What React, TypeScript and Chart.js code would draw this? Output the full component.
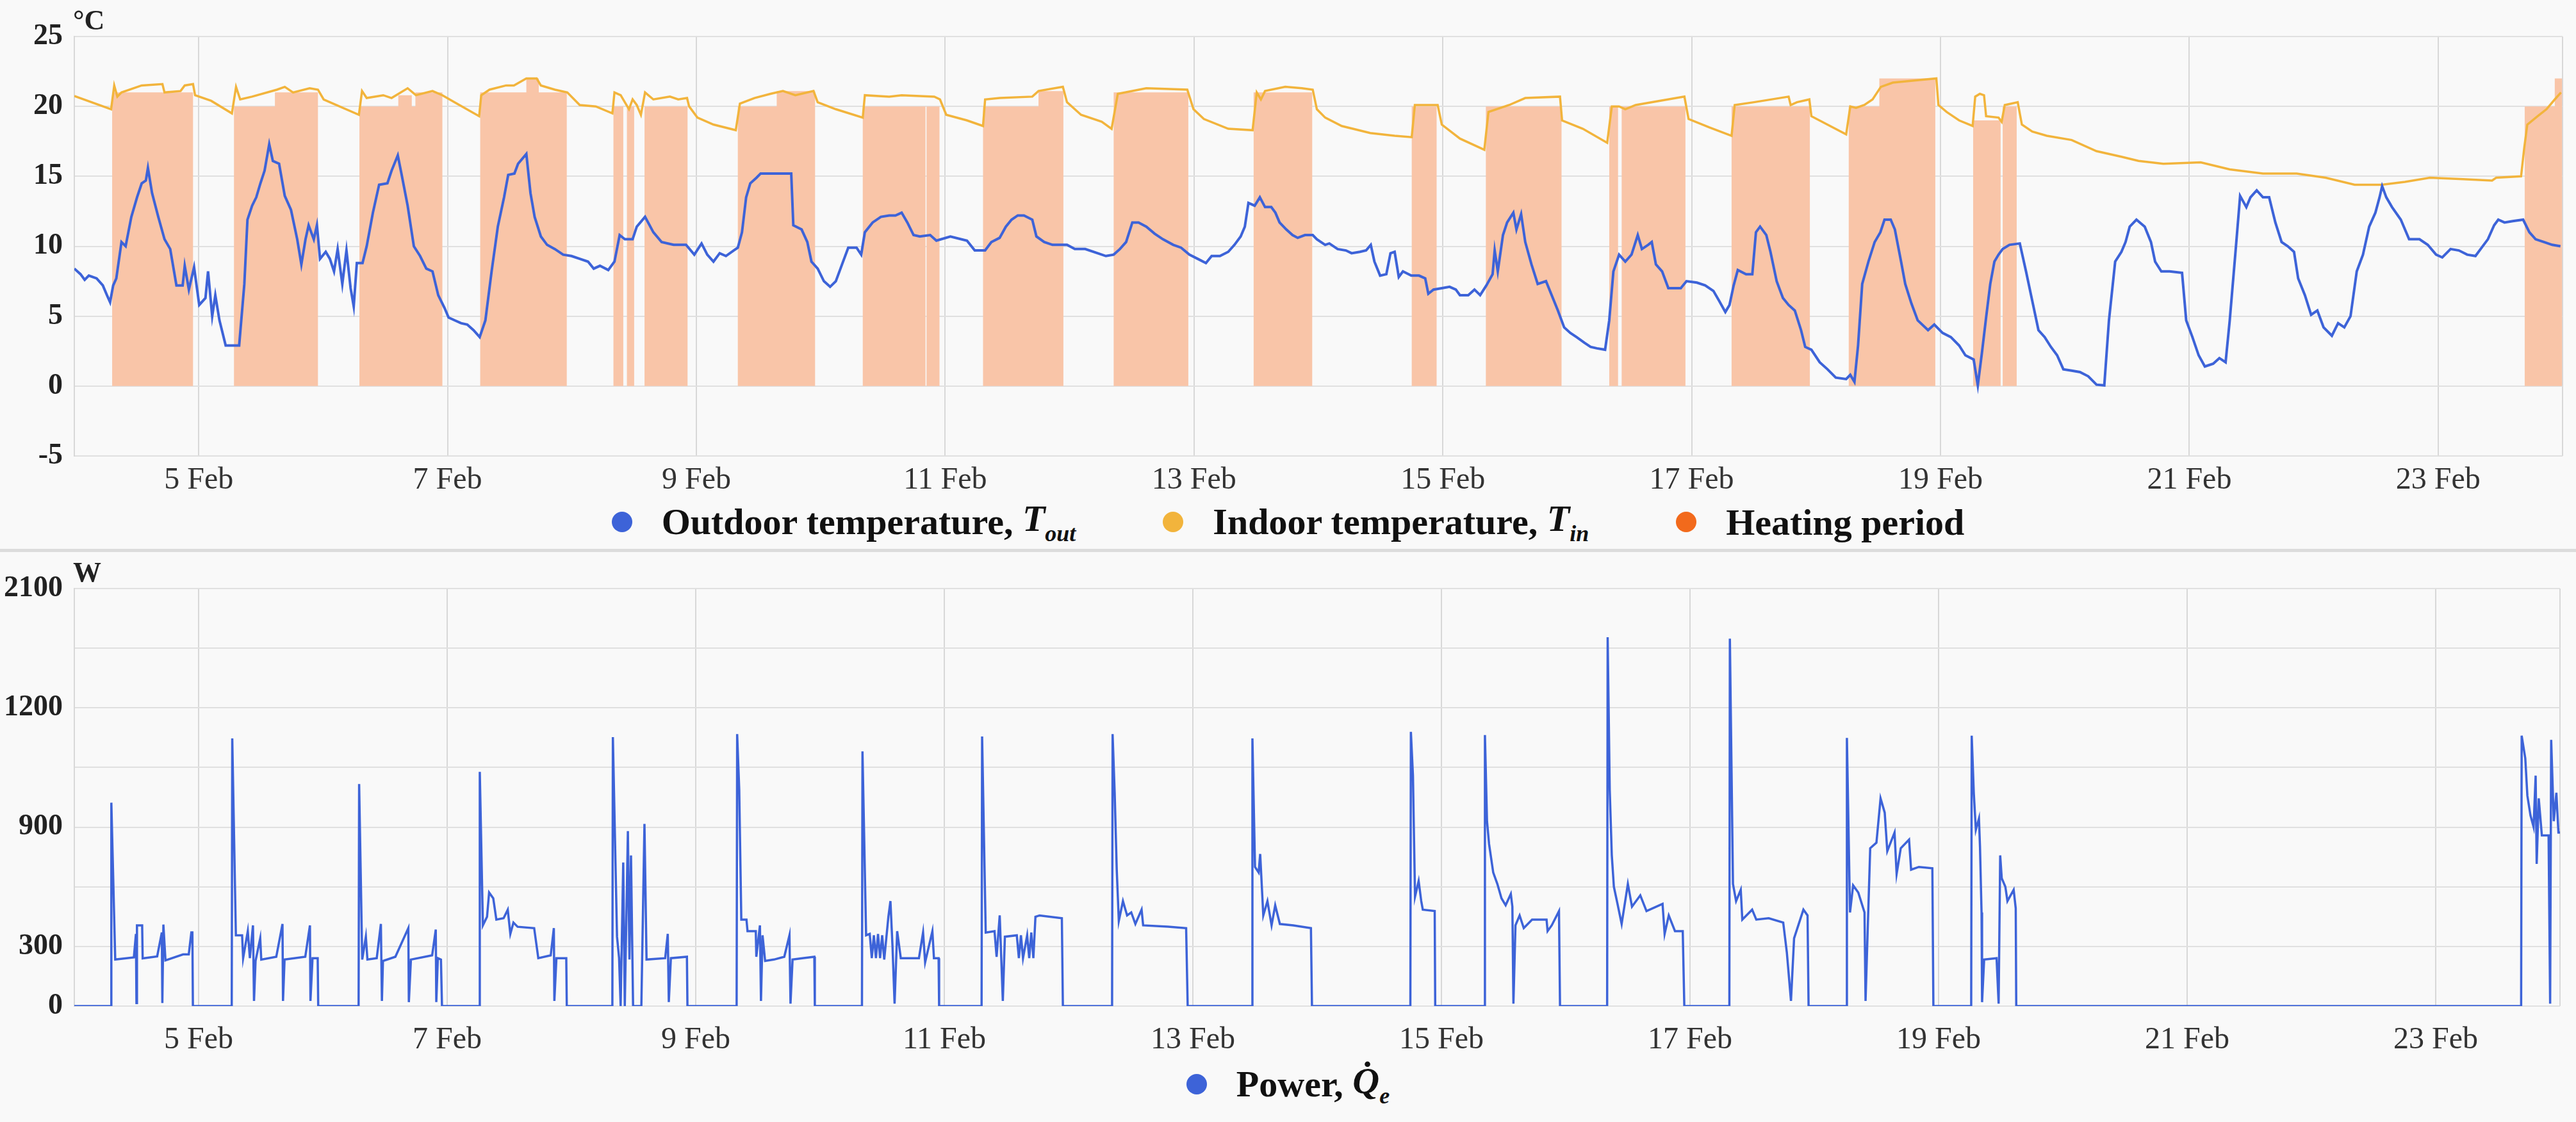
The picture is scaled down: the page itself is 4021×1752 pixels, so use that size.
import React, { useEffect, useRef } from 'react';
import Chart from 'chart.js/auto';

// hours counted from 4 Feb 00:00
const outdoorHours = [
  0, 1.2, 2, 2.8, 4.3, 5.5, 6.3, 6.9, 7.5, 8.1, 9.1, 9.9, 11, 12.1, 13, 13.8, 14.2, 15, 16.2, 17.4, 18.5, 19.7,
  20.9, 21.3, 22.1, 23.1, 24.1, 25.3, 25.8, 26.6, 27.2, 28, 29.2, 31.8, 32.8, 33.4, 34.3, 35.1, 35.9, 36.7, 37.6,
  38.3, 39.5, 40.6, 41.8, 43, 43.8, 44.6, 45.2, 46.2, 46.8, 47.4, 48.5, 49.3, 50.1, 50.8, 51.7, 52.5, 53.3, 53.9,
  54.5, 55.6, 56.4, 57.6, 58.8, 60.4, 61.2, 62.4, 63.1, 64.3, 65.5, 66.7, 67.9, 69.1, 70.2, 71.4, 72.2, 73.4,
  74.6, 75.8, 77, 78.2, 79.3, 80.5, 81.7, 82.9, 83.7, 84.9, 85.6, 87.2, 88, 88.8, 90, 91.2, 92.7, 94.3, 95.9,
  97.5, 99.1, 100.2, 101.4, 103, 104.2, 105.2, 106.2, 107.7, 108.5, 110.1, 111.7, 113.3, 115.6, 118, 119.6, 121,
  122.1, 123.3, 124.5, 125.7, 127.2, 128, 128.8, 129.6, 130.4, 131.6, 132.4, 138.3, 138.7, 140.3, 141.4, 142.2,
  143.4, 144.6, 145.8, 146.9, 148.1, 149.3, 150.9, 151.8, 152.5, 154, 155.6, 157.2, 158.4, 159.6, 160.7, 161.9,
  163.1, 165.1, 166.3, 169, 172.2, 173.7, 175.7, 176.9, 178.5, 179.7, 180.8, 182, 183.2, 184.8, 185.6, 187.1,
  188.7, 191.5, 193, 195, 197.4, 199, 200.5, 201.7, 202.9, 204.1, 205.3, 206.8, 208.4, 210, 212, 213.5, 215.1,
  216.7, 218.3, 219.4, 221, 222.6, 223.8, 225, 225.8, 226.5, 227.7, 228.7, 229.7, 230.9, 231.7, 232.5, 233.8,
  235, 236, 237.4, 238.9, 239.7, 241.3, 242.1, 243.7, 245.3, 246.4, 248, 249.2, 250.1, 250.8, 251.9, 253.1,
  253.9, 254.7, 255.5, 256.3, 257.9, 259.4, 260.6, 261.2, 262.2, 263.8, 265.3, 266.5, 267.3, 268.9, 270.1,
  271.2, 272.4, 273.6, 274, 274.6, 275.6, 276.4, 277.6, 278.2, 279.1, 279.9, 281.1, 282.3, 283.9, 285, 286.2,
  287.4, 288.6, 289.8, 291.3, 292.5, 293.7, 295.3, 296.1, 296.9, 298, 299.2, 300.4, 301.6, 302.4, 303.6, 304.3,
  305.1, 306.3, 307.5, 309.9, 311, 313, 314.6, 316.2, 317.3, 318.5, 319.3, 320.1, 320.9, 322.5, 323.7, 324.4,
  325.2, 326.4, 327.2, 328.4, 329.6, 330.7, 331.9, 333.1, 333.9, 335.1, 336.7, 338.2, 339.8, 341.8, 342.6,
  343.4, 344.1, 344.9, 346.1, 347.3, 348.4, 349.2, 350.4, 351.2, 352.4, 353.2, 354.4, 355.6, 357.6, 358.8,
  360.4, 362, 363.6, 364.8, 366.4, 367.2, 368, 368.8, 369.6, 370.4, 371.2, 372, 373.3, 375.3, 376.5, 377.7,
  378.9, 380.1, 381.3, 382.5, 383.7, 385.3, 386.9, 388.5, 390.1, 391.6, 392.5, 393.7, 394.9, 395.7, 396.5,
  397.8, 399.4, 400.6, 401.4, 402.6, 404.2, 406.6, 407.4, 408.6, 409.8, 411, 412.6, 413.8, 415, 415.8, 417,
  417.8, 419, 419.8, 421, 422.2, 423.4, 424.6, 425.8, 427, 428.2, 429, 430.3, 431.5, 432.7, 433.9, 435.5,
  436.7, 437.9, 439.1, 440.3, 441.5, 442.7, 443.9, 444.7, 445.2, 446, 447.1, 448.8, 450.4, 452.4, 454, 455.6,
  456.8, 458.4, 460, 461.6, 463.2, 464.4, 465.6, 466.8, 467.6, 468.8, 470.4, 472.4, 473.6, 474.8, 476.4, 478,
  479.6,
];
const outdoorTemp = [
  8.4, 8.0, 7.6, 7.9, 7.7, 7.2, 6.5, 6.0, 7.2, 7.7, 10.3, 10.0, 12.1, 13.5, 14.5, 14.7, 15.6, 13.8, 12.1, 10.5,
  9.8, 7.2, 7.2, 8.6, 6.9, 8.5, 5.8, 6.3, 8.2, 5.0, 6.5, 4.7, 2.9, 2.9, 7.3, 11.9, 12.9, 13.5, 14.5, 15.4, 17.3,
  16.1, 15.9, 13.6, 12.6, 10.5, 8.7, 10.5, 11.5, 10.5, 11.5, 9.1, 9.6, 9.1, 8.2, 9.8, 7.3, 9.7, 7.0, 5.7, 8.8,
  8.8, 10.0, 12.4, 14.4, 14.5, 15.4, 16.5, 15.2, 12.9, 10.0, 9.3, 8.4, 8.2, 6.5, 5.6, 4.9, 4.7, 4.5, 4.4, 4.0,
  3.5, 4.7, 8.2, 11.4, 13.5, 15.1, 15.2, 15.9, 16.6, 13.8, 12.1, 10.7, 10.1, 9.8, 9.4, 9.3, 9.1, 8.9, 8.4, 8.6,
  8.3, 8.9, 10.8, 10.5, 10.5, 11.4, 12.1, 11.0, 10.3, 10.1, 10.1, 9.4, 10.2, 9.4, 8.9, 9.5, 9.3, 9.7, 9.9, 11.0,
  13.5, 14.5, 14.9, 15.2, 15.2, 11.5, 11.2, 10.3, 8.9, 8.4, 7.5, 7.1, 7.5, 8.7, 9.9, 9.9, 9.4, 11.0, 11.7, 12.1,
  12.2, 12.2, 12.4, 11.7, 10.8, 10.7, 10.8, 10.4, 10.7, 10.4, 9.7, 9.7, 10.3, 10.6, 11.4, 11.9, 12.2, 12.2,
  11.9, 10.7, 10.3, 10.1, 10.1, 9.8, 9.8, 9.5, 9.3, 9.4, 9.8, 10.3, 11.7, 11.7, 11.4, 10.9, 10.5, 10.1, 9.9,
  9.4, 9.1, 8.8, 9.3, 9.3, 9.6, 10.1, 10.7, 11.4, 13.1, 12.9, 13.5, 12.8, 12.8, 12.4, 11.7, 11.2, 10.8, 10.6,
  10.8, 10.8, 10.5, 10.1, 10.2, 9.8, 9.7, 9.5, 9.6, 9.7, 10.1, 8.9, 7.9, 8.0, 9.5, 9.6, 7.8, 8.2, 7.9, 7.9,
  7.7, 6.6, 6.9, 7.0, 7.1, 6.9, 6.5, 6.5, 6.9, 6.5, 7.2, 8.0, 9.7, 8.2, 10.8, 11.7, 12.4, 11.2, 12.3, 10.3, 8.7,
  7.3, 7.5, 6.5, 5.4, 4.2, 3.8, 3.5, 3.1, 2.8, 2.7, 2.6, 4.7, 8.2, 9.4, 8.9, 9.4, 10.8, 9.8, 10.1, 10.3, 8.7,
  8.2, 7.0, 7.0, 7.5, 7.4, 7.2, 6.8, 6.1, 5.3, 5.8, 7.2, 8.3, 8.0, 8.0, 11.0, 11.4, 10.8, 9.6, 7.5, 6.3, 5.8,
  5.4, 4.0, 2.8, 2.6, 1.7, 1.2, 0.6, 0.5, 0.8, 0.3, 2.9, 7.3, 8.9, 10.3, 11.0, 11.9, 11.9, 11.2, 8.9, 7.3, 5.9,
  4.7, 4.0, 4.4, 3.8, 3.5, 2.9, 2.2, 1.9, 0.05, 2.4, 4.9, 7.3, 8.9, 9.4, 9.8, 10.1, 10.2, 8.2, 6.1, 4.0, 3.5,
  2.8, 2.2, 1.2, 1.1, 1.0, 0.7, 0.1, 0.05, 4.7, 8.9, 9.6, 10.3, 11.4, 11.9, 11.4, 10.3, 8.9, 8.2, 8.2, 8.1, 4.7,
  3.5, 2.2, 1.4, 1.6, 2.0, 1.7, 4.7, 10.0, 13.6, 12.8, 13.5, 14.0, 13.5, 13.5, 11.7, 10.3, 10.0, 9.6, 7.7, 6.5,
  5.1, 5.4, 4.2, 3.6, 4.5, 4.2, 5.0, 8.2, 9.4, 11.4, 12.4, 13.5, 14.3, 13.5, 12.8, 11.9, 10.5, 10.5, 10.1, 9.4,
  9.2, 9.8, 9.7, 9.4, 9.3, 9.9, 10.5, 11.5, 11.9, 11.7, 11.8, 11.9, 11.0, 10.5, 10.3, 10.1, 10.0,
];

const indoorHours = [
  0, 7.1, 7.7, 8.3, 9.1, 13, 17, 17.4, 20.5, 21.3, 22.9, 23.3, 26.4, 30.4, 31.2, 32, 34.3, 39.1, 40.6, 42.2, 45.4,
  47, 48.1, 54.9, 55.5, 56.4, 59.6, 61.2, 64.3, 65.9, 69.1, 71, 73.8, 78.1, 78.5, 80.1, 83.3, 84.8, 87.2, 89.2,
  90, 92.7, 95.1, 97.5, 100.6, 103.8, 104.2, 105.4, 106.2, 107, 107.7, 108.5, 109.3, 110.1, 111.7, 114.9, 116.5,
  118.2, 118.6, 120.2, 123.3, 127.6, 128.4, 131.2, 134.3, 136.7, 139.1, 142.6, 143.4, 146.9, 152.1, 152.5, 157.2,
  159.6, 165.9, 167, 168.2, 172.2, 175.3, 175.7, 178.5, 184.8, 186, 190.7, 191.5, 194.2, 198.2, 200.1, 201.3,
  206.8, 214.7, 215.9, 217.9, 222.6, 227.3, 228.1, 228.9, 229.7, 233.6, 236.8, 238.9, 239.7, 241.3, 244.5, 250,
  254.7, 258, 258.6, 263, 263.8, 267.3, 272, 272.8, 276.8, 279.9, 286.6, 287, 291, 295.7, 296.6, 298, 299.2,
  301.2, 310.6, 311.4, 315.4, 319.7, 320.3, 324, 330.7, 331.1, 332.3, 334.7, 335.1, 341.8, 342.6, 343.7, 345.3,
  346.9, 348.5, 350.8, 356.2, 359.2, 359.6, 361.2, 363.6, 366.2, 366.7, 367.6, 368.4, 368.8, 371.2, 371.8, 372.4,
  373.7, 374.9, 375.7, 377.7, 380.5, 385.3, 390.1, 394.9, 398.2, 403, 410.2, 415.8, 422.2, 428.7, 434.3, 439.9,
  445.1, 449.6, 454.4, 460.8, 466.4, 467.2, 472, 472.6, 473.2, 475.2, 476.9, 478.5, 479.7,
];
const indoorTemp = [
  20.75, 19.8, 21.5, 20.7, 21.0, 21.5, 21.6, 21.0, 21.1, 21.5, 21.6, 20.8, 20.4, 19.5, 21.4, 20.5, 20.7, 21.2,
  21.4, 21.0, 21.3, 21.2, 20.5, 19.4, 21.1, 20.6, 20.8, 20.6, 21.3, 20.8, 21.1, 20.8, 20.2, 19.3, 20.8, 21.2,
  21.5, 21.5, 22.0, 22.0, 21.5, 21.2, 21.0, 20.1, 20.0, 19.5, 21.0, 20.8, 20.3, 19.8, 20.5, 20.1, 19.4, 21.0,
  20.5, 20.7, 20.5, 20.6, 20.0, 19.2, 18.7, 18.3, 20.2, 20.6, 20.9, 21.1, 20.8, 21.1, 20.3, 19.8, 19.2, 20.8,
  20.7, 20.8, 20.7, 20.5, 19.4, 19.0, 18.6, 20.5, 20.6, 20.7, 21.1, 21.4, 20.3, 19.4, 18.9, 18.4, 20.9, 21.3,
  21.2, 19.8, 19.1, 18.4, 18.3, 21.0, 20.5, 21.1, 21.4, 21.3, 21.2, 19.8, 19.2, 18.6, 18.1, 17.9, 17.8, 20.1,
  20.1, 18.7, 17.7, 16.9, 19.6, 20.1, 20.6, 20.7, 19.0, 18.4, 17.4, 20.0, 20.0, 19.8, 20.1, 20.7, 19.1, 18.5,
  17.9, 20.1, 20.3, 20.7, 20.1, 20.3, 20.5, 19.3, 18.0, 20.0, 19.9, 20.1, 20.5, 21.4, 21.7, 21.9, 22.0, 20.1,
  19.6, 19.0, 18.6, 20.7, 20.9, 20.8, 19.3, 19.2, 18.9, 20.1, 20.2, 20.3, 18.7, 18.2, 17.9, 17.6, 16.8, 16.4,
  16.1, 15.9, 16.0, 15.5, 15.2, 15.2, 14.9, 14.4, 14.4, 14.6, 14.9, 14.8, 14.7, 14.9, 15.0, 17.0, 18.7, 19.3,
  19.8, 20.5, 21.0,
];

const heatStart = [
  7.3, 30.8, 38.7, 55.0, 62.5, 65.1, 65.8, 78.3, 87.2, 89.6, 104.0, 106.6, 110.0, 128.0, 135.5, 152.1, 164.4,
  175.3, 186.0, 200.5, 227.5, 258.0, 272.3, 296.1, 298.5, 319.7, 342.3, 348.2, 366.3, 372.0, 472.7, 478.5,
];
const heatEnd = [
  22.9, 38.7, 47.0, 62.5, 65.1, 65.8, 71.0, 87.2, 89.6, 95.0, 105.9, 108.0, 118.3, 135.5, 142.9, 164.2, 166.9,
  186.0, 190.8, 214.9, 238.8, 262.8, 286.9, 297.8, 310.8, 334.8, 348.2, 359.0, 371.6, 374.7, 478.5, 479.9,
];
const heatLevel = [
  21.0, 20.0, 21.0, 20.0, 20.8, 20.0, 21.0, 21.0, 22.0, 21.0, 20.0, 20.0, 20.0, 20.0, 21.1, 20.0, 20.0, 20.0,
  21.1, 21.0, 21.0, 20.0, 20.0, 20.0, 20.0, 20.0, 20.0, 22.0, 19.0, 20.0, 20.0, 22.0,
];

const powerHours = [
  0, 7.1, 7.15, 7.9, 11.5, 11.9, 12.0, 12.1, 13.1, 13.2, 16.0, 16.9, 17.0, 17.2, 17.6, 21.0, 22.1, 22.6, 22.8,
  22.9, 30.4, 30.5, 31.2, 32.4, 32.6, 33.5, 33.9, 34.5, 34.7, 35.0, 35.9, 36.1, 39.0, 40.2, 40.3, 40.6, 44.6,
  45.5, 45.6, 46.0, 47.0, 47.1, 54.9, 55.0, 55.6, 56.3, 56.6, 58.4, 59.2, 59.4, 59.6, 62.0, 64.5, 64.6, 65.0,
  69.1, 69.8, 69.9, 70.2, 70.8, 71.0, 78.2, 78.3, 78.9, 79.7, 80.1, 80.9, 81.5, 82.9, 83.7, 84.2, 84.8, 85.6,
  88.8, 89.6, 92.0, 92.6, 92.7, 93.1, 95.0, 95.1, 103.9, 104.0, 104.8, 105.2, 105.5, 106.0, 106.3, 106.9, 107.2,
  107.5, 107.9, 109.5, 110.1, 110.5, 114.1, 114.6, 114.8, 115.2, 118.3, 118.4, 127.9, 128.0, 128.4, 128.8,
  129.8, 130.0, 131.6, 131.7, 132.4, 132.6, 132.9, 133.4, 135.1, 137.1, 138.1, 138.3, 138.7, 140.6, 142.9,
  143.0, 152.1, 152.2, 152.9, 153.6, 154.0, 154.4, 154.8, 155.2, 155.6, 156.0, 156.4, 157.2, 157.6, 158.0,
  158.4, 158.9, 159.6, 163.1, 163.9, 164.3, 165.7, 166.0, 166.9, 167.0, 175.2, 175.3, 176.0, 177.7, 178.1,
  178.7, 179.3, 179.7, 182.0, 182.4, 182.8, 183.2, 184.0, 184.4, 184.8, 185.2, 185.6, 186.4, 190.7, 190.9,
  200.4, 200.5, 200.9, 201.3, 201.7, 202.5, 203.3, 204.1, 204.9, 206.1, 206.4, 211.2, 214.7, 215.0, 227.4,
  227.5, 228.0, 228.7, 229.0, 229.6, 230.4, 231.2, 231.9, 232.8, 235.4, 238.8, 239.0, 258.0, 258.1, 258.5,
  258.9, 259.6, 260.1, 260.4, 262.7, 262.8, 272.3, 272.4, 272.8, 273.2, 274.0, 274.8, 275.6, 276.4, 277.4,
  277.7, 277.9, 278.3, 279.1, 279.9, 281.5, 284.3, 284.5, 285.3, 286.7, 286.9, 296.0, 296.1, 296.5, 296.9,
  297.3, 298.0, 298.8, 300.0, 300.8, 302.4, 303.6, 306.7, 307.1, 307.9, 309.1, 310.6, 310.9, 319.6, 319.7,
  320.3, 320.9, 321.8, 322.1, 324.0, 324.8, 327.2, 330.0, 330.7, 331.5, 332.1, 333.9, 334.7, 334.9, 342.2,
  342.3, 342.9, 343.5, 344.5, 345.7, 345.9, 346.4, 346.8, 348.0, 348.8, 349.6, 350.1, 351.5, 351.9, 352.7,
  354.3, 354.7, 356.2, 358.8, 359.0, 366.3, 366.4, 366.8, 367.2, 367.8, 368.0, 368.3, 368.4, 368.8, 371.2,
  371.6, 371.9, 372.2, 372.9, 373.3, 374.5, 374.9, 375.0, 472.5, 472.6, 473.3, 473.7, 474.3, 474.9, 475.3,
  475.5, 475.9, 476.5, 477.8, 478.1, 478.3, 478.8, 479.3, 479.7, 480,
];
const powerWatts = [
  0, 0, 1023, 234, 245, 363, 15, 406, 406, 240, 250, 370, 15, 410, 230, 260, 260, 370, 370, 0, 0, 1346, 356, 356,
  241, 377, 241, 406, 26, 227, 341, 234, 248, 413, 26, 234, 248, 406, 26, 241, 241, 0, 0, 1117, 234, 349, 234,
  241, 413, 26, 227, 248, 392, 20, 234, 255, 385, 20, 241, 234, 0, 0, 1178, 406, 449, 571, 542, 435, 442, 485,
  363, 420, 399, 392, 241, 255, 392, 26, 241, 241, 0, 0, 1353, 349, 241, 0, 722, 0, 880, 234, 758, 0, 0, 916,
  234, 241, 363, 20, 241, 248, 0, 0, 1368, 1088, 435, 435, 377, 377, 248, 406, 26, 356, 227, 234, 248, 356, 12,
  234, 241, 248, 0, 0, 1281, 356, 363, 241, 356, 241, 363, 241, 356, 234, 449, 528, 299, 12, 377, 241, 241, 370,
  220, 377, 241, 241, 0, 0, 1356, 370, 377, 248, 456, 26, 349, 356, 241, 356, 241, 356, 241, 370, 241, 449, 456,
  442, 0, 0, 1368, 1073, 686, 428, 528, 456, 471, 413, 485, 406, 399, 392, 0, 0, 1346, 700, 672, 765, 456, 528,
  406, 507, 413, 406, 392, 0, 0, 1379, 1159, 550, 629, 528, 485, 478, 0, 0, 1363, 930, 815, 672, 614, 542, 507,
  564, 500, 12, 406, 456, 392, 435, 435, 377, 406, 478, 0, 0, 1855, 1088, 758, 600, 514, 413, 614, 500, 557,
  478, 514, 363, 456, 377, 377, 0, 0, 1848, 614, 528, 585, 435, 485, 435, 442, 420, 270, 26, 341, 485, 456, 0,
  0, 1349, 471, 607, 571, 471, 26, 456, 794, 822, 1045, 973, 779, 873, 664, 794, 837, 686, 700, 693, 0, 0, 1360,
  1073, 887, 944, 801, 471, 20, 234, 241, 12, 758, 643, 600, 528, 585, 492, 0, 0, 1360, 1246, 1059, 959, 901,
  1159, 715, 1045, 858, 858, 12, 1339, 930, 1073, 873, 873,
];

const dayTicks = [24, 72, 120, 168, 216, 264, 312, 360, 408, 456, 480];
const tempTicks = [-5, 0, 5, 10, 15, 20, 25];
const powerTickValues = [0, 300, 600, 900, 1200, 1500, 1800, 2100];
const powerTickText = ['0', '300', '', '900', '', '1200', '', '2100'];

const FONT = "'Liberation Serif', 'Times New Roman', serif";
const BLUE = '#3d63d8';
const YELLOW = '#f2b43c';
const PEACH = '#f9c5a8';
const ORANGE = '#f26a1c';
const GRID = '#e0e0e0';

const zip = (xs: number[], ys: number[]) => xs.map((x, i) => ({ x, y: ys[i] }));

const heatingPoints: { x: number; y: number }[] = [{ x: 0, y: 0 }];
heatStart.forEach((s, i) => {
  heatingPoints.push({ x: s, y: heatLevel[i] }, { x: heatEnd[i], y: 0 });
});
heatingPoints.push({ x: 480, y: 0 });

const unitPlugin = {
  id: 'unitLabel',
  afterDraw(chart: any, _args: any, opts: any) {
    const { ctx, chartArea } = chart;
    ctx.save();
    ctx.font = `bold 44px ${FONT}`;
    ctx.fillStyle = '#222';
    ctx.textAlign = 'left';
    ctx.textBaseline = 'alphabetic';
    ctx.fillText(opts.text, chartArea.left - 2, chartArea.top - 11);
    ctx.restore();
  },
};

function xScale(padding: number, height: number) {
  return {
    type: 'linear',
    min: 0,
    max: 480,
    afterBuildTicks: (s: any) => {
      s.ticks = dayTicks.map((v) => ({ value: v }));
    },
    afterFit: (s: any) => {
      s.height = height;
    },
    ticks: {
      autoSkip: false,
      maxRotation: 0,
      padding,
      color: '#333',
      font: { family: FONT, size: 48 },
      callback: (v: any) => (v >= 480 ? '' : `${4 + v / 24} Feb`),
    },
    grid: { color: '#d8d8d8', lineWidth: 2, drawTicks: false },
    border: { display: false },
  };
}

function yScale(min: number, max: number, values: number[], label: (v: number) => string) {
  return {
    min,
    max,
    afterBuildTicks: (s: any) => {
      s.ticks = values.map((v) => ({ value: v }));
    },
    afterFit: (s: any) => {
      s.width = 116;
    },
    ticks: {
      autoSkip: false,
      padding: 18,
      color: '#222',
      font: { family: FONT, size: 46, weight: 'bold' },
      callback: (v: any) => label(v),
    },
    grid: { color: GRID, lineWidth: 2, drawTicks: false },
    border: { display: true, color: '#d8d8d8', width: 2 },
  };
}

const TempChart: React.FC = () => {
  const ref = useRef<HTMLCanvasElement | null>(null);
  useEffect(() => {
    if (!ref.current) return;
    const chart = new Chart(ref.current, {
      type: 'line',
      data: {
        datasets: [
          {
            label: 'Outdoor temperature',
            data: zip(outdoorHours, outdoorTemp),
            borderColor: BLUE,
            borderWidth: 4,
            pointRadius: 0,
            order: 1,
          },
          {
            label: 'Indoor temperature',
            data: zip(indoorHours, indoorTemp),
            borderColor: YELLOW,
            borderWidth: 3.5,
            pointRadius: 0,
            order: 2,
          },
          {
            label: 'Heating period',
            data: heatingPoints,
            stepped: 'before',
            borderWidth: 0,
            borderColor: 'rgba(0,0,0,0)',
            backgroundColor: PEACH,
            fill: 'origin',
            pointRadius: 0,
            order: 3,
          },
        ],
      } as any,
      options: {
        animation: false,
        responsive: false,
        devicePixelRatio: 1,
        layout: { padding: { top: 57, right: 21, left: 0, bottom: 0 } },
        plugins: {
          legend: { display: false },
          tooltip: { enabled: false },
          unitLabel: { text: '°C' },
        } as any,
        scales: {
          x: xScale(10, 60),
          y: yScale(-5, 25, tempTicks, (v) => String(v)),
        } as any,
      },
      plugins: [unitPlugin],
    });
    return () => chart.destroy();
  }, []);
  return <canvas ref={ref} width={4021} height={772} style={{ position: 'absolute', left: 0, top: 0 }} />;
};

const PowerChart: React.FC = () => {
  const ref = useRef<HTMLCanvasElement | null>(null);
  useEffect(() => {
    if (!ref.current) return;
    const chart = new Chart(ref.current, {
      type: 'line',
      data: {
        datasets: [
          {
            label: 'Power',
            data: zip(powerHours, powerWatts),
            borderColor: BLUE,
            borderWidth: 3.5,
            pointRadius: 0,
          },
        ],
      } as any,
      options: {
        animation: false,
        responsive: false,
        devicePixelRatio: 1,
        layout: { padding: { top: 49, right: 21, left: 0, bottom: 0 } },
        plugins: {
          legend: { display: false },
          tooltip: { enabled: false },
          unitLabel: { text: 'W' },
        } as any,
        scales: {
          x: xScale(25, 75),
          y: yScale(0, 2100, powerTickValues, (v) => powerTickText[powerTickValues.indexOf(v)] ?? ''),
        } as any,
      },
      plugins: [unitPlugin],
    });
    return () => chart.destroy();
  }, []);
  return <canvas ref={ref} width={4021} height={776} style={{ position: 'absolute', left: 0, top: 870 }} />;
};

const legendText: React.CSSProperties = {
  fontFamily: FONT,
  fontWeight: 'bold',
  fontSize: 58,
  color: '#111',
  whiteSpace: 'nowrap',
};

const Dot: React.FC<{ color: string }> = ({ color }) => (
  <span
    style={{
      display: 'inline-block',
      width: 32,
      height: 32,
      borderRadius: '50%',
      background: color,
      marginRight: 46,
    }}
  />
);

const Sym: React.FC<{ base: string; sub: string }> = ({ base, sub }) => (
  <i>
    {base}
    <sub style={{ fontSize: '0.62em', verticalAlign: '-0.45em' }}>{sub}</sub>
  </i>
);

const legendRow = (top: number, items: React.ReactNode[]) => (
  <div
    style={{
      position: 'absolute',
      left: 0,
      top,
      width: 4021,
      height: 80,
      display: 'flex',
      alignItems: 'center',
      justifyContent: 'center',
      gap: 136,
      ...legendText,
    }}
  >
    {items}
  </div>
);

export default function App() {
  return (
    <div
      style={{
        position: 'absolute',
        left: 0,
        top: 0,
        width: 4021,
        height: 1752,
        background: '#f9f9f9',
        overflow: 'hidden',
      }}
    >
      <TempChart />
      {legendRow(775, [
        <span key="o" style={{ display: 'flex', alignItems: 'center' }}>
          <Dot color={BLUE} />
          Outdoor temperature,&nbsp;<Sym base="T" sub="out" />
        </span>,
        <span key="i" style={{ display: 'flex', alignItems: 'center' }}>
          <Dot color={YELLOW} />
          Indoor temperature,&nbsp;<Sym base="T" sub="in" />
        </span>,
        <span key="h" style={{ display: 'flex', alignItems: 'center' }}>
          <Dot color={ORANGE} />
          Heating period
        </span>,
      ])}
      <div style={{ position: 'absolute', left: 0, top: 857, width: 4021, height: 5, background: '#dcdcdc' }} />
      <PowerChart />
      {legendRow(1653, [
        <span key="p" style={{ display: 'flex', alignItems: 'center' }}>
          <Dot color={BLUE} />
          Power,&nbsp;<Sym base={'Q\u0307'} sub="e" />
        </span>,
      ])}
    </div>
  );
}
